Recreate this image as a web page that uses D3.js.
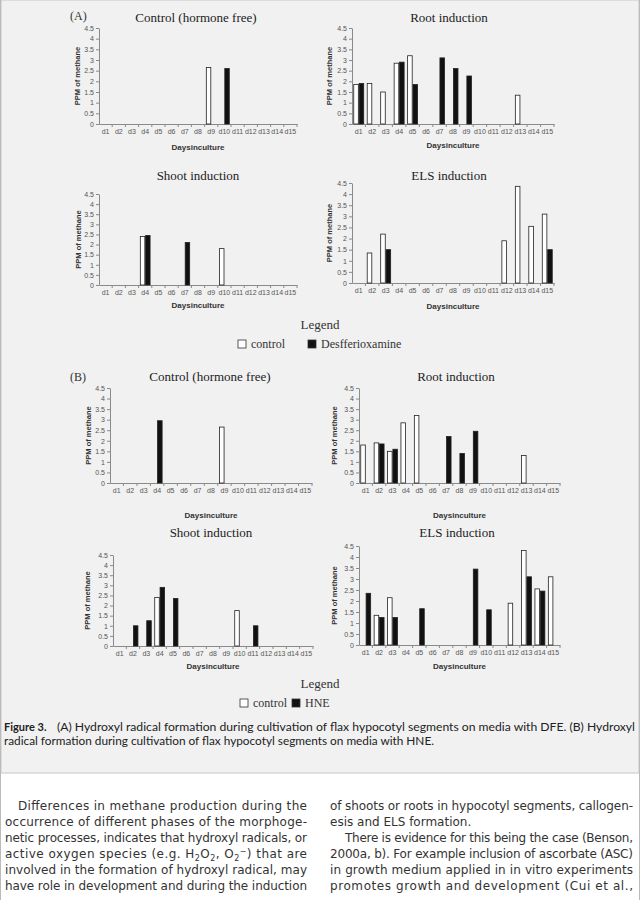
<!DOCTYPE html>
<html><head><meta charset="utf-8">
<script src="https://cdn.jsdelivr.net/npm/d3@7"></script>
<style>body{margin:0;background:#fff}svg{display:block}</style>
</head><body><svg id="c" width="640" height="900"></svg>
<script>
// ---------- DATA ----------
const days = ["d1","d2","d3","d4","d5","d6","d7","d8","d9","d10","d11","d12","d13","d14","d15"];
const yTicks = [0,0.5,1,1.5,2,2.5,3,3.5,4,4.5];
const panelTitles = ["Control (hormone free)","Root induction","Shoot induction","ELS induction"];
const yAxisTitle = "PPM of methane";
const xAxisTitle = "Daysinculture";
const seriesA = ["control","Desfferioxamine"];
const seriesB = ["control","HNE"];
const _ = null;
// (A) DFE
const a1Control = [_,_,_,_,_,_,_,_,2.65,_,_,_,_,_,_];
const a1Dfe     = [_,_,_,_,_,_,_,_,_,2.6,_,_,_,_,_];
const a2Control = [1.85,1.9,1.5,2.85,3.2,_,_,_,_,_,_,_,1.35,_,_];
const a2Dfe     = [1.9,_,_,2.9,1.85,_,3.1,2.6,2.25,_,_,_,_,_,_];
const a3Control = [_,_,_,2.4,_,_,_,_,_,1.8,_,_,_,_,_];
const a3Dfe     = [_,_,_,2.45,_,_,2.1,_,_,_,_,_,_,_,_];
const a4Control = [_,1.35,2.2,_,_,_,_,_,_,_,_,1.9,4.35,2.55,3.1];
const a4Dfe     = [_,_,1.5,_,_,_,_,_,_,_,_,_,_,_,1.5];
// (B) HNE
const b1Control = [_,_,_,_,_,_,_,_,2.65,_,_,_,_,_,_];
const b1Hne     = [_,_,_,2.95,_,_,_,_,_,_,_,_,_,_,_];
const b2Control = [1.8,1.9,1.5,2.85,3.2,_,_,_,_,_,_,_,1.3,_,_];
const b2Hne     = [_,1.85,1.6,_,_,_,2.2,1.4,2.45,_,_,_,_,_,_];
const b3Control = [_,_,_,2.4,_,_,_,_,_,1.75,_,_,_,_,_];
const b3Hne     = [_,1.0,1.25,2.9,2.35,_,_,_,_,_,1.0,_,_,_,_];
const b4Control = [_,1.35,2.15,_,_,_,_,_,_,_,_,1.9,4.3,2.55,3.1];
const b4Hne     = [2.35,1.25,1.25,_,1.65,_,_,_,3.45,1.6,_,_,3.1,2.45,_];

const captionBold = "Figure 3.";
const captionLine1 = "(A) Hydroxyl radical formation during cultivation of flax hypocotyl segments on media with DFE. (B) Hydroxyl";
const captionLine2 = "radical formation during cultivation of flax hypocotyl segments on media with HNE.";

// ---------- LAYOUT ----------
const panels = [
  {x0:99,  x1:297, yTop:28,  yBot:124, tx:196, ty:17,  t:0, c:a1Control, s:a1Dfe, yl:77,  xt:147},
  {x0:352, x1:554, yTop:28,  yBot:124, tx:449, ty:17,  t:1, c:a2Control, s:a2Dfe, yl:329, xt:145},
  {x0:99,  x1:297, yTop:194, yBot:285, tx:198, ty:175, t:2, c:a3Control, s:a3Dfe, yl:78,  xt:305},
  {x0:352, x1:554, yTop:183, yBot:283, tx:449, ty:175, t:3, c:a4Control, s:a4Dfe, yl:329, xt:306},
  {x0:110, x1:312, yTop:388, yBot:483, tx:210, ty:376, t:0, c:b1Control, s:b1Hne, yl:88,  xt:515},
  {x0:359, x1:560, yTop:388, yBot:483, tx:456, ty:376, t:1, c:b2Control, s:b2Hne, yl:334, xt:515},
  {x0:113, x1:313, yTop:555, yBot:646, tx:211, ty:532, t:2, c:b3Control, s:b3Hne, yl:87,  xt:666},
  {x0:359, x1:560, yTop:546, yBot:645, tx:457, ty:532, t:3, c:b4Control, s:b4Hne, yl:334, xt:666}
];

const svg = d3.select("#c");
svg.append("rect").attr("x",0).attr("y",0).attr("width",640).attr("height",900).attr("fill","#fff");
svg.append("rect").attr("x",1).attr("y",0).attr("width",638).attr("height",773)
  .attr("fill","#f1f1f1").attr("stroke","#c8c8c8").attr("stroke-width",1);
svg.append("line").attr("x1",0.5).attr("x2",0.5).attr("y1",0).attr("y2",900).attr("stroke","#bbb");
svg.append("line").attr("x1",639.5).attr("x2",639.5).attr("y1",0).attr("y2",900).attr("stroke","#bbb");

const serif = "'Liberation Serif','Times New Roman',serif";
const sans = "'Liberation Sans',Arial,sans-serif";

function drawPanel(p){
  const g = svg.append("g");
  const x = d3.scaleBand().domain(days).range([p.x0, p.x1]).paddingInner(0.2).paddingOuter(0.1);
  const sub = d3.scaleBand().domain([0,1]).range([0, x.bandwidth()]);
  const y = d3.scaleLinear().domain([0,4.5]).range([p.yBot, p.yTop]);

  g.append("text").attr("x",p.tx).attr("y",p.ty+5).attr("text-anchor","middle")
    .attr("font-family",serif).attr("font-size",13).attr("fill","#222").text(panelTitles[p.t]);

  const ya = g.append("g").attr("transform",`translate(${p.x0},0)`)
    .call(d3.axisLeft(y).tickValues(yTicks).tickSize(3).tickSizeOuter(0).tickPadding(2).tickFormat(d=>String(d)));
  ya.select(".domain").attr("stroke","#8a8a8a");
  ya.selectAll(".tick line").attr("stroke","#8a8a8a");
  ya.selectAll("text").attr("font-family",sans).attr("font-size",7).attr("fill","#555");

  const xa = g.append("g").attr("transform",`translate(0,${p.yBot})`)
    .call(d3.axisBottom(x).tickSize(0).tickSizeOuter(0).tickPadding(5));
  xa.select(".domain").attr("stroke","#8a8a8a");
  xa.selectAll("text").attr("font-family",sans).attr("font-size",7).attr("fill","#555");
  const step = x.step();
  g.append("g").selectAll("line").data(days).join("line")
    .attr("x1",d=>x(d)+x.bandwidth()+(step-x.bandwidth())/2)
    .attr("x2",d=>x(d)+x.bandwidth()+(step-x.bandwidth())/2)
    .attr("y1",p.yBot).attr("y2",p.yBot+3).attr("stroke","#8a8a8a");

  g.append("text").attr("x",(p.x0+p.x1)/2).attr("y",p.xt+3).attr("text-anchor","middle")
    .attr("font-family",sans).attr("font-weight","bold").attr("font-size",8).attr("fill","#333").text(xAxisTitle);
  g.append("text").attr("transform",`translate(${p.yl+3},${(p.yTop+p.yBot)/2}) rotate(-90)`)
    .attr("text-anchor","middle").attr("font-family",sans).attr("font-weight","bold")
    .attr("font-size",7.5).attr("fill","#333").text(yAxisTitle);

  const rows = [];
  days.forEach((d,i)=>{
    if (p.c[i]!=null) rows.push({d, k:0, v:p.c[i]});
    if (p.s[i]!=null) rows.push({d, k:1, v:p.s[i]});
  });
  g.append("g").selectAll("rect").data(rows).join("rect")
    .attr("x",r=>x(r.d)+sub(r.k)+0.4)
    .attr("width",sub.bandwidth()-0.8)
    .attr("y",r=>y(r.v))
    .attr("height",r=>p.yBot-y(r.v))
    .attr("fill",r=>r.k===0?"#fff":"#111")
    .attr("stroke","#222").attr("stroke-width",0.8);
}
panels.forEach(drawPanel);

svg.append("text").attr("x",70).attr("y",20).attr("font-family",serif).attr("font-size",12).attr("fill","#333").text("(A)");
svg.append("text").attr("x",70).attr("y",381).attr("font-family",serif).attr("font-size",12).attr("fill","#333").text("(B)");

function legend(cy, items, xs){
  svg.append("text").attr("x",320).attr("y",cy).attr("text-anchor","middle")
    .attr("font-family",serif).attr("font-size",13).attr("fill","#333").text("Legend");
  items.forEach((t,i)=>{
    svg.append("rect").attr("x",xs[i]).attr("y",cy+11).attr("width",8).attr("height",8)
      .attr("fill",i===0?"#fff":"#111").attr("stroke","#333").attr("stroke-width",0.8);
    svg.append("text").attr("x",xs[i]+13).attr("y",cy+19).attr("font-family",serif)
      .attr("font-size",12).attr("fill","#333").text(t);
  });
}
legend(329, seriesA, [238,308]);
legend(688, seriesB, [240,292]);

// caption
const capFont = "Lato,'DejaVu Sans',sans-serif";
svg.append("text").attr("x",4).attr("y",731).attr("font-family",capFont).attr("font-weight","bold")
  .attr("font-size",11).attr("fill","#222").text(captionBold);
svg.append("text").attr("x",57).attr("y",731).attr("font-family",capFont)
  .attr("font-size",11).attr("fill","#222").attr("textLength",578).attr("lengthAdjust","spacingAndGlyphs")
  .text(captionLine1);
svg.append("text").attr("x",4).attr("y",745).attr("font-family",capFont)
  .attr("font-size",11).attr("fill","#222").attr("textLength",430).attr("lengthAdjust","spacingAndGlyphs")
  .text(captionLine2);

// body text
const bodyFont = "'DejaVu Sans',sans-serif";
const leftLines = [
  {parts:[["Differences in methane production during the"]], x:18, w:289},
  {parts:[["occurrence of different phases of the morphoge-"]], x:5, w:302},
  {parts:[["netic processes, indicates that hydroxyl radicals, or"]], x:5, w:302},
  {parts:[["active oxygen species (e.g. H"],["2","sub"],["O"],["2","sub"],[", O"],["2","sub"],["\u2212","super"],[") that are"]], x:5, w:302},
  {parts:[["involved in the formation of hydroxyl radical, may"]], x:5, w:302},
  {parts:[["have role in development and during the induction"]], x:5, w:302}
];
const rightLines = [
  {parts:[["of shoots or roots in hypocotyl segments, callogen-"]], x:330, w:303},
  {parts:[["esis and ELS formation."]], x:330, w:null},
  {parts:[["There is evidence for this being the case (Benson,"]], x:345, w:288},
  {parts:[["2000a, b). For example inclusion of ascorbate (ASC)"]], x:330, w:303},
  {parts:[["in growth medium applied in in vitro experiments"]], x:330, w:303},
  {parts:[["promotes growth and development (Cui et al.,"]], x:330, w:303}
];
function bodyLines(lines){
  lines.forEach((l,i)=>{
    const t = svg.append("text").attr("x",l.x).attr("y",810+i*16)
      .attr("font-family",bodyFont).attr("font-size",12).attr("fill","#333");
    if (l.w) t.attr("textLength",l.w).attr("lengthAdjust","spacing");
    l.parts.forEach(pt=>{
      const ts = t.append("tspan").text(pt[0]);
      if (pt[1]==="sub") ts.attr("dy",3).attr("font-size",8);
      if (pt[1]==="super") ts.attr("dy",-7).attr("font-size",8);
    });
    // restore baseline after shifted tspans
    let acc = 0;
    t.selectAll("tspan").each(function(){
      const dy = +d3.select(this).attr("dy") || 0;
      if (dy===0 && acc!==0){ d3.select(this).attr("dy",-acc); acc = 0; }
      else acc += dy;
    });
  });
}
bodyLines(leftLines);
bodyLines(rightLines);
</script></body></html>
